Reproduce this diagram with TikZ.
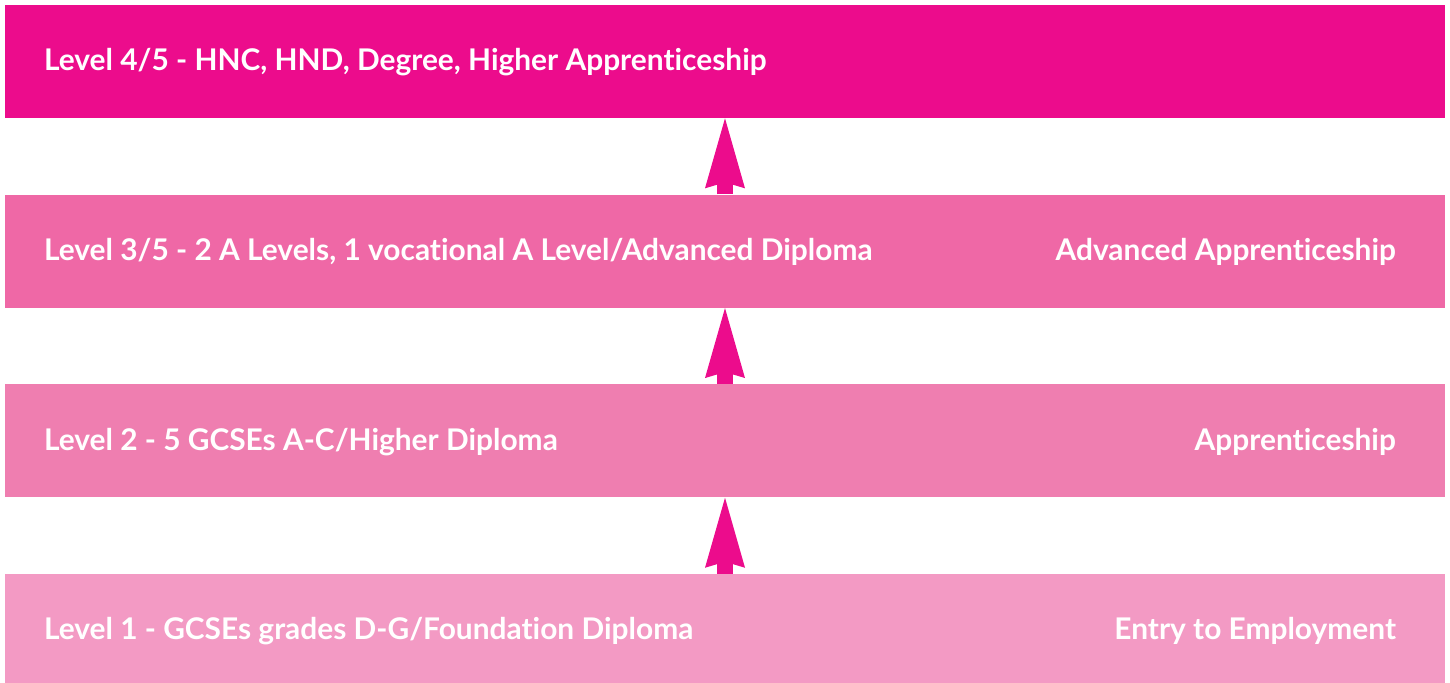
\documentclass[tikz,border=0pt]{standalone}
\usepackage{fontspec}
\setsansfont{Lato}[Ligatures=NoCommon]
\usepackage{tikz}
\usetikzlibrary{positioning,arrows.meta}

\definecolor{pinkdeep}{RGB}{236,12,140}
\definecolor{pinkmid}{RGB}{239,104,166}
\definecolor{pinksoft}{RGB}{239,126,176}
\definecolor{pinkpale}{RGB}{243,154,196}

\tikzset{
  band/.style={rectangle, minimum width=28.8cm, minimum height=2.26cm, inner sep=0pt},
  lbl/.style={text=white, font=\sffamily\bfseries\fontsize{17}{20}\selectfont,
    inner sep=0pt, text height=14pt, text depth=3.2pt},
  uparrow/.style={draw=pinkdeep, line width=0.32cm,
    -{Stealth[length=1.4cm, width=0.8cm, inset=0.12cm, line width=0pt, fill=pinkdeep]}}
}

\begin{document}
\begin{tikzpicture}
  \useasboundingbox (0,0) rectangle (29,-13.66);

  % the four levels
  \node[band, fill=pinkdeep] (lvl45) at (14.5,-1.23) {};
  \node[band, fill=pinkmid, below=1.52cm of lvl45] (lvl35) {};
  \node[band, fill=pinksoft, below=1.52cm of lvl35] (lvl2) {};
  \node[band, fill=pinkpale, below=1.52cm of lvl2, minimum height=2.22cm] (lvl1) {};

  % labels
  \node[lbl, anchor=west, right=0.78cm of lvl45.west] (t45) {Level 4/5 - HNC, HND, Degree, Higher Apprenticeship};
  \node[lbl, anchor=west, right=0.78cm of lvl35.west] (t35) {Level 3/5 - 2 A Levels, 1 vocational A Level/Advanced Diploma};
  \node[lbl, anchor=west, right=0.78cm of lvl2.west] (t2) {Level 2 - 5 GCSEs A-C/Higher Diploma};
  \node[lbl, anchor=west, right=0.78cm of lvl1.west] (t1) {Level 1 - GCSEs grades D-G/Foundation Diploma};
  \node[lbl, anchor=east, left=0.98cm of lvl35.east] (r35) {Advanced Apprenticeship};
  \node[lbl, anchor=east, left=0.98cm of lvl2.east] (r2) {Apprenticeship};
  \node[lbl, anchor=east, left=0.98cm of lvl1.east] (r1) {Entry to Employment};

  % progression arrows
  \draw[uparrow] (lvl35.north) -- (lvl45.south);
  \draw[uparrow] (lvl2.north) -- (lvl35.south);
  \draw[uparrow] (lvl1.north) -- (lvl2.south);
\end{tikzpicture}
\end{document}
